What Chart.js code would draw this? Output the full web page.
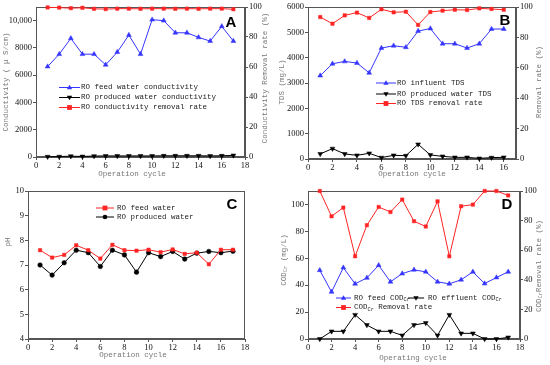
<!DOCTYPE html>
<html><head><meta charset="utf-8">
<script src="https://cdn.jsdelivr.net/npm/chart.js@4/dist/chart.umd.min.js"></script>
<style>
html,body{margin:0;padding:0;background:#fff;}
#wrap{position:relative;width:550px;height:365px;}
canvas{position:absolute;}
</style></head><body>
<div id="wrap">
<canvas id="cA" width="275" height="182" style="left:0;top:0"></canvas>
<canvas id="cB" width="275" height="182" style="left:275px;top:0"></canvas>
<canvas id="cC" width="275" height="183" style="left:0;top:182px"></canvas>
<canvas id="cD" width="275" height="183" style="left:275px;top:182px"></canvas>
</div>
<script>
// ---- data ----
const cyclesA = [1,2,3,4,5,6,7,8,9,10,11,12,13,14,15,16,17];
const feedCond = [6630,7540,8700,7540,7540,6760,7690,8940,7540,10070,10000,9110,9110,8770,8500,9580,8500];
const prodCond = [20,30,60,40,70,80,80,80,80,80,90,90,90,90,80,90,120];
const condRemoval = [99.7,99.6,99.2,99.5,98.8,98.6,98.9,98.9,98.8,98.9,98.9,98.8,98.9,98.8,98.9,98.9,98.5];

const cyclesB = [1,2,3,4,5,6,7,8,9,10,11,12,13,14,15,16];
const tdsIn = [3290,3760,3850,3790,3400,4380,4470,4410,5050,5150,4550,4550,4380,4550,5130,5130];
const tdsOut = [200,410,200,145,225,55,145,130,580,160,105,65,65,25,55,65];
const tdsRemoval = [93.4,89.0,94.5,96.3,92.8,98.5,96.5,96.9,88.2,96.7,97.6,98.2,98.0,99.1,98.7,98.2];

const cyclesC = [1,2,3,4,5,6,7,8,9,10,11,12,13,14,15,16,17];
const phFeed = [7.6,7.3,7.41,7.8,7.6,7.26,7.82,7.6,7.58,7.62,7.52,7.63,7.45,7.5,7.03,7.62,7.62];
const phProd = [7.0,6.59,7.09,7.6,7.5,6.94,7.6,7.41,6.71,7.5,7.34,7.55,7.24,7.48,7.55,7.5,7.56];

const cyclesD = [1,2,3,4,5,6,7,8,9,10,11,12,13,14,15,16,17];
const codFeed = [51.1,35,53,41,45.4,54.8,42.5,48.6,51.4,49.9,42.5,41,44,49.9,41.2,45.7,49.9];
const codOut = [0,5.7,5.7,18,10.4,5.7,5.7,2.7,10.4,11.9,2.7,18,4.2,4.2,0,0,1.2];
const codRemoval = [100,82.9,88.8,55.9,76.9,89.2,85.8,94.2,79.6,76,93,55.9,89.7,90.8,100,100,97];

// ---- tick labels ----
const xTicks18 = [0,2,4,6,8,10,12,14,16,18];
const xTicks16 = [0,2,4,6,8,10,12,14,16];
const yTicksA = [0,2000,4000,6000,8000,10000];
const yTicksB = [0,1000,2000,3000,4000,5000,6000];
const yTicksC = [4,5,6,7,8,9,10];
const yTicksD = [0,20,40,60,80,100];
const pctTicks = [0,20,40,60,80,100];

// ---- styles ----
const BLUE = '#3535ff', RED = '#ff2424', BLACK = '#000000';
const MONO = '"Liberation Mono","DejaVu Sans Mono",monospace';
const SERIF = '"Liberation Serif","DejaVu Serif",serif';
const AX = '#555';
const TICKFONT = 8.5;

function pts(xs, ys){ return xs.map((x,i)=>({x:x,y:ys[i]})); }

function ds(xs, ys, color, style, axis){
  return {data: pts(xs, ys), borderColor: color, backgroundColor: color, borderWidth: 1,
    pointStyle: style==='tridown' ? 'triangle' : style, pointRotation: style==='tridown'?180:0,
    pointRadius: style==='rect'?2.4:(style==='circle'?2.3:2.8), pointBorderWidth: 0.5,
    yAxisID: axis||'y', clip: false, tension: 0};
}

function drawMarker(ctx, style, x, y, color){
  ctx.save(); ctx.fillStyle = color; ctx.strokeStyle = color;
  ctx.beginPath();
  const r = 2.8;
  if (style==='triangle'){ ctx.moveTo(x, y-r); ctx.lineTo(x+r*0.95, y+r*0.6); ctx.lineTo(x-r*0.95, y+r*0.6); ctx.closePath(); }
  else if (style==='tridown'){ ctx.moveTo(x, y+r); ctx.lineTo(x+r*0.95, y-r*0.6); ctx.lineTo(x-r*0.95, y-r*0.6); ctx.closePath(); }
  else if (style==='rect'){ ctx.rect(x-2.4, y-2.4, 4.8, 4.8); }
  else { ctx.arc(x, y, 2.3, 0, Math.PI*2); }
  ctx.fill(); ctx.restore();
}

function richWidth(ctx, parts, size){
  let w = 0;
  parts.forEach(p=>{ ctx.font = (p[1]?size*0.7:size)+'px '+MONO; w += ctx.measureText(p[0]).width; });
  return w;
}
function drawRich(ctx, parts, x, y, size, color, align){
  ctx.save(); ctx.fillStyle = color; ctx.textBaseline = 'middle'; ctx.textAlign = 'left';
  let cx = x;
  if (align==='center') cx = x - richWidth(ctx, parts, size)/2;
  parts.forEach(p=>{
    const s = p[1]?size*0.7:size;
    ctx.font = s+'px '+MONO;
    ctx.fillText(p[0], cx, y + (p[1]?2:0));
    cx += ctx.measureText(p[0]).width;
  });
  ctx.restore();
}

const decor = {
  id: 'decor',
  beforeDatasetsDraw(chart, args, o){
    const ctx = chart.ctx, a = chart.chartArea;
    ctx.save(); ctx.strokeStyle = AX; ctx.lineWidth = 1;
    ctx.strokeRect(Math.round(a.left)+0.5, Math.round(a.top)+0.5, Math.round(a.right-a.left)-1, Math.round(a.bottom-a.top)-1);
    ctx.restore();
  },
  afterDraw(chart, args, o){
    const ctx = chart.ctx;
    if (o.letter){
      ctx.save(); ctx.fillStyle = '#000'; ctx.font = 'bold 15px "Liberation Sans",Arial,sans-serif';
      ctx.textAlign = 'center'; ctx.textBaseline = 'middle';
      ctx.fillText(o.letter[0], o.letter[1], o.letter[2]); ctx.restore();
    }
    (o.titles||[]).forEach(t=>{
      ctx.save(); ctx.translate(t.x, t.y); if (t.rot) ctx.rotate(-Math.PI/2);
      drawRich(ctx, t.parts, 0, 0, 7.5, '#777', 'center');
      ctx.restore();
    });
    (o.legend||[]).forEach(l=>{
      ctx.save(); ctx.strokeStyle = l.color; ctx.lineWidth = 1;
      ctx.beginPath(); ctx.moveTo(l.x1, l.y+0.5); ctx.lineTo(l.x2, l.y+0.5); ctx.stroke(); ctx.restore();
      drawMarker(ctx, l.style, (l.x1+l.x2)/2, l.y+0.5, l.color);
      drawRich(ctx, l.parts, l.tx, l.y+0.5, 7.5, '#222', 'left');
    });
  }
};
Chart.register(decor);

function xScale(max, h, tickVals){
  return {type:'linear', min:0, max:max, position:'bottom',
    afterFit: s=>{ s.height = h; },
    afterBuildTicks: s=>{ s.ticks = tickVals.map(v=>({value:v})); },
    ticks:{color:'#111', font:{family:SERIF, size:TICKFONT}, padding:1, maxRotation:0, autoSkip:false},
    grid:{drawOnChartArea:false, drawTicks:true, tickLength:3, color:AX},
    border:{display:true, color:AX}};
}
function yScale(pos, min, max, w, tickVals, cb){
  return {type:'linear', position:pos, min:min, max:max,
    afterFit: s=>{ s.width = w; },
    afterBuildTicks: s=>{ s.ticks = tickVals.map(v=>({value:v})); },
    ticks:{color:'#111', font:{family:SERIF, size:TICKFONT}, padding:1, callback: cb || (v=>String(v)), autoSkip:false},
    grid:{drawOnChartArea:false, drawTicks:true, tickLength:3, color:AX},
    border:{display:true, color:AX}};
}

function base(padding, scales, decorOpts){
  return {responsive:false, animation:false, devicePixelRatio:1,
    layout:{padding:padding},
    plugins:{legend:{display:false}, tooltip:{enabled:false}, decor: decorOpts},
    scales: scales};
}

// ---- Panel A ----
new Chart(document.getElementById('cA'), {
  type:'line',
  data:{datasets:[
    ds(cyclesA, feedCond, BLUE, 'triangle', 'y'),
    ds(cyclesA, prodCond, BLACK, 'tridown', 'y'),
    ds(cyclesA, condRemoval, RED, 'rect', 'y1')
  ]},
  options: base({top:7,left:0,right:0,bottom:0}, {
    x: xScale(18, 25, xTicks18),
    y: yScale('left', 0, 11000, 36, yTicksA, v=> v===10000?'10,000':String(v)),
    y1: yScale('right', 0, 100, 30, pctTicks)
  }, {
    letter:['A', 231, 23],
    titles:[
      {parts:[['Operation cycle',0]], x:132, y:174},
      {parts:[['Conductivity ( μ S/cm)',0]], x:6, y:82, rot:true},
      {parts:[['Conductivity Removal rate (%)',0]], x:265, y:78, rot:true}
    ],
    legend:[
      {x1:59, x2:80, y:87, tx:81, color:BLUE, style:'triangle', parts:[['RO feed water conductivity',0]]},
      {x1:59, x2:80, y:97, tx:81, color:BLACK, style:'tridown', parts:[['RO produced water conductivity',0]]},
      {x1:59, x2:80, y:107, tx:81, color:RED, style:'rect', parts:[['RO conductivity removal rate',0]]}
    ]
  })
});

// ---- Panel B ----
new Chart(document.getElementById('cB'), {
  type:'line',
  data:{datasets:[
    ds(cyclesB, tdsIn, BLUE, 'triangle', 'y'),
    ds(cyclesB, tdsOut, BLACK, 'tridown', 'y'),
    ds(cyclesB, tdsRemoval, RED, 'rect', 'y1')
  ]},
  options: base({top:7,left:0,right:0,bottom:0}, {
    x: xScale(17, 23, xTicks16),
    y: yScale('left', 0, 6000, 33, yTicksB),
    y1: yScale('right', 0, 100, 34, pctTicks)
  }, {
    letter:['B', 230, 21],
    titles:[
      {parts:[['Operation cycle',0]], x:137, y:174},
      {parts:[['TDS (mg/L)',0]], x:7, y:82, rot:true},
      {parts:[['Removal rate (%)',0]], x:264, y:82, rot:true}
    ],
    legend:[
      {x1:101, x2:121, y:82.5, tx:122, color:BLUE, style:'triangle', parts:[['RO influent TDS',0]]},
      {x1:101, x2:121, y:93.5, tx:122, color:BLACK, style:'tridown', parts:[['RO produced water TDS',0]]},
      {x1:101, x2:121, y:103, tx:122, color:RED, style:'rect', parts:[['RO TDS removal rate',0]]}
    ]
  })
});

// ---- Panel C ----
new Chart(document.getElementById('cC'), {
  type:'line',
  data:{datasets:[
    ds(cyclesC, phFeed, RED, 'rect', 'y'),
    ds(cyclesC, phProd, BLACK, 'circle', 'y')
  ]},
  options: base({top:9,left:0,right:30,bottom:0}, {
    x: xScale(18, 26, xTicks18),
    y: yScale('left', 4, 10, 28, yTicksC)
  }, {
    letter:['C', 232, 23],
    titles:[
      {parts:[['Operation cycle',0]], x:133, y:173},
      {parts:[['pH',0]], x:8, y:60, rot:true}
    ],
    legend:[
      {x1:96, x2:114, y:25.5, tx:117, color:RED, style:'rect', parts:[['RO feed water',0]]},
      {x1:96, x2:114, y:34.5, tx:117, color:BLACK, style:'circle', parts:[['RO produced water',0]]}
    ]
  })
});

// ---- Panel D ----
new Chart(document.getElementById('cD'), {
  type:'line',
  data:{datasets:[
    ds(cyclesD, codFeed, BLUE, 'triangle', 'y'),
    ds(cyclesD, codOut, BLACK, 'tridown', 'y'),
    ds(cyclesD, codRemoval, RED, 'rect', 'y1')
  ]},
  options: base({top:9,left:0,right:0,bottom:0}, {
    x: xScale(18, 26, xTicks18),
    y: yScale('left', 0, 110, 33, yTicksD),
    y1: yScale('right', 0, 100, 30, pctTicks)
  }, {
    letter:['D', 232, 23],
    titles:[
      {parts:[['Operating cycle',0]], x:138, y:176},
      {parts:[['COD',0],['Cr',1],[' (mg/L)',0]], x:9, y:78, rot:true},
      {parts:[['COD',0],['Cr',1],['Removal rate (%)',0]], x:264, y:84, rot:true}
    ],
    legend:[
      {x1:61, x2:76, y:115.5, tx:79, color:BLUE, style:'triangle', parts:[['RO feed COD',0],['Cr',1]]},
      {x1:133, x2:149, y:115.5, tx:153, color:BLACK, style:'tridown', parts:[['RO effluent COD',0],['Cr',1]]},
      {x1:61, x2:76, y:125, tx:79, color:RED, style:'rect', parts:[['COD',0],['Cr',1],[' Removal rate',0]]}
    ]
  })
});
</script>
</body></html>
